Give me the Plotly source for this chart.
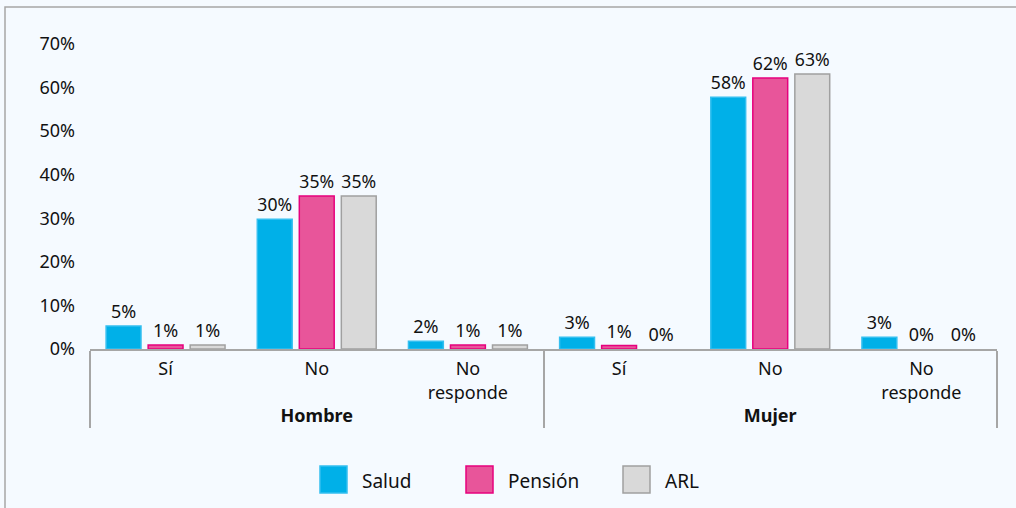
import plotly.graph_objects as go

genders = ["<b>Hombre</b>"] * 3 + ["<b>Mujer</b>"] * 3
answers = ["Sí", "No", "No<br>responde", "Sí", "No", "No<br>responde"]
series_names = ["Salud", "Pensión", "ARL"]
salud = [0.053, 0.298, 0.018, 0.027, 0.578, 0.027]
pension = [0.009, 0.351, 0.009, 0.008, 0.622, 0.0]
arl = [0.009, 0.351, 0.009, 0.0, 0.631, 0.0]
y_ticks = [0, 0.1, 0.2, 0.3, 0.4, 0.5, 0.6, 0.7]
y_labels = ["0%", "10%", "20%", "30%", "40%", "50%", "60%", "70%"]

fills = ["#00B0E8", "#E8559A", "#D9D9D9"]
borders = ["#33BFF0", "#E6007E", "#A0A0A0"]
FONT = "Noto Sans"

fig = go.Figure()
for name, vals, fc, bc in zip(series_names, [salud, pension, arl], fills, borders):
    fig.add_trace(go.Bar(
        x=[genders, answers], y=vals, name=name,
        marker=dict(color=fc, line=dict(color=bc, width=[1.5 if v > 0 else 0 for v in vals])),
        texttemplate="%{y:.0%}", textposition="outside", cliponaxis=False,
        textfont=dict(size=18, color="#111111", family=FONT),
        showlegend=False,
    ))

# manual legend (large squares like the reference)
H = 305.0
W = 907.0
def px(x):
    return (x - 90) / W
def py(y):
    return (349 - y) / H

legend_x = [320, 466, 623]
shapes = []
annotations = []
for lx, name, fc, bc in zip(legend_x, series_names, fills, borders):
    shapes.append(dict(type="rect", xref="paper", yref="paper",
                       x0=px(lx), x1=px(lx + 27), y0=py(493), y1=py(466),
                       fillcolor=fc, line=dict(color=bc, width=1.5)))
    annotations.append(dict(xref="paper", yref="paper", x=px(lx + 40), y=py(481),
                            text=name, showarrow=False, xanchor="left", yanchor="middle",
                            font=dict(size=19, color="#111111", family=FONT)))

# outer frame
shapes.append(dict(type="rect", xref="paper", yref="paper", layer="below",
                   x0=px(5), x1=px(1030), y0=py(530), y1=py(7),
                   line=dict(color="#A6A6A6", width=1.5), fillcolor="rgba(0,0,0,0)"))

fig.update_layout(
    width=1016, height=508,
    margin=dict(l=90, r=19, t=44, b=159),
    paper_bgcolor="#F5FAFF", plot_bgcolor="#F5FAFF",
    barmode="group", bargap=0.166, bargroupgap=0.17,
    font=dict(family=FONT, size=18, color="#111111"),
    shapes=shapes, annotations=annotations,
    xaxis=dict(type="multicategory", showline=True, linecolor="#A6A6A6", linewidth=1.5,
               showdividers=True, dividercolor="#A6A6A6", dividerwidth=1.5,
               tickfont=dict(size=18, family=FONT, color="#111111"),
               ticks="", showgrid=False, ticklabelstandoff=3),
    yaxis=dict(range=[0, 0.7], tickvals=y_ticks, ticktext=y_labels, showgrid=False,
               zeroline=False, showline=False, ticks="", ticklabelstandoff=14,
               tickfont=dict(size=18, family=FONT, color="#111111")),
)

fig.write_html("out.html", post_script="document.body.style.margin='0';",
               config={"displayModeBar": False})
